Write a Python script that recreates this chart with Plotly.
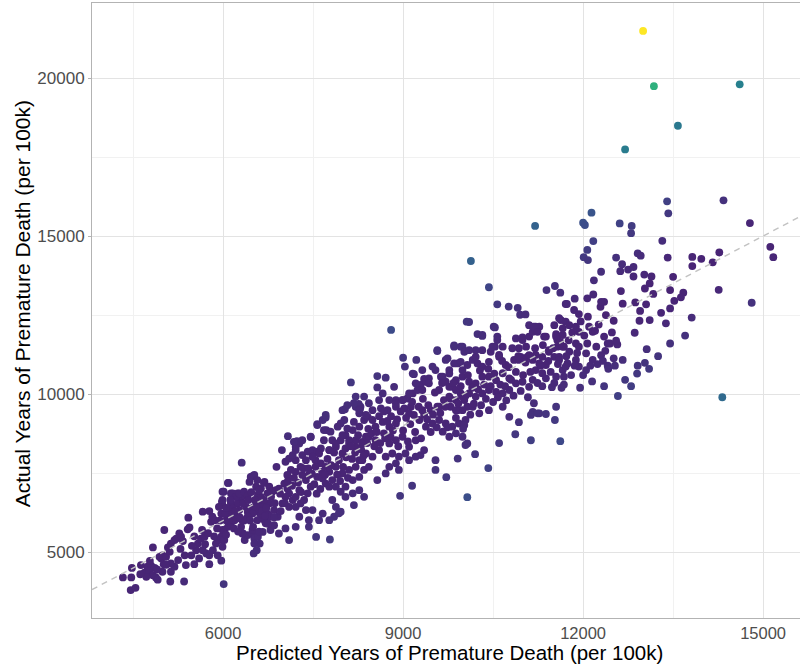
import plotly.graph_objects as go

# ---- data: (predicted, actual) pairs -----------------------------------
low_left = [(4330,4200),(4470,4200),(4460,3800),(4540,3870),(4480,4500),(4690,4350),(4740,4540),(4800,4570),
    (4860,4500),(4770,4380),(4830,4270),(4880,4200),(4910,4130),(4990,4380),(5010,4620),(4970,4800),(4940,4850),
    (4990,4900),(5050,4850),(5120,4070),(5130,4380),(5190,4540),(5130,4640),(5110,5010),(5130,5270),(5190,5380),
    (5220,5430),(5270,5590),(5300,5490),(5410,5720),(5440,5780),(5420,6090),(5360,4900),(5380,4590),(5520,4620),
    (5470,4900),(5550,5060),(5580,5270),(5630,5430),(5690,5490),(5720,4960),(5660,5060),(5770,4620),(5770,4900),
    (5830,5060),(5880,5270),(5940,5380),(5970,5490),(5910,4900),(5970,4730),(5990,5170),(6020,5380),(6020,5700),
    (6080,5800),(6130,5850),(6190,6010),(6240,6070),(6300,5800),(6330,5590),(6360,5380),(6410,5540),(6490,5590),
    (6520,5430),(6580,5490),(6610,5270),(6520,5270),(6510,4960),(6560,5060),(5800,5960),(5860,6010),(5770,6300),
    (5660,6280),(5970,6220),(5990,6490),(5980,6590),(6010,6910),(6080,7190),(6130,6860),(6190,6750),(6240,6860),
    (6300,6700),(6360,6800),(6380,6430),(6410,6280),(6470,6380),(6520,6430),(6580,6280),(6630,6170),(6690,6010),
    (6740,6220),(6490,7400),(6690,7220),(6440,7220),(6550,7070),(6580,6800),(6610,6590),(6660,6490),(6240,6540),
    (6270,6330),(6130,6540),(6160,6380),(6080,6220),(6050,6010),(6310,7830),(6010,3990),(4830,5150),(5020,5700),
    (5350,4070),(4720,4220),(4630,4590)]

cloud_6k_8k = [(5990,6910),(5990,6650),(6090,7190),(6160,6860),(6210,6750),(6270,6860),(6350,6910),(6410,6800),
    (6460,7380),(6520,7440),(6570,7280),(6630,7010),(6680,7190),(6770,7070),(6820,6910),(6740,6860),(6630,6750),
    (6660,6430),(6770,6540),(6850,6330),(6910,6120),(6540,6430),(6490,6220),(6410,6120),(6320,6010),(6210,6120),
    (6100,6010),(6040,6220),(5930,6430),(5820,6120),(6570,6010),(6710,5910),(6790,6120),(6880,6960),(6930,7010),
    (7020,7170),(7070,7010),(7100,6860),(7160,6650),(7210,6750),(7270,6960),(7040,6750),(6990,6540),(7100,6430),
    (7210,6430),(7290,6540),(7350,6650),(7410,6860),(7460,7070),(7380,7280),(7320,7440),(7210,7540),(7130,7600),
    (7070,7440),(7040,7860),(7100,7960),(7210,7910),(7290,7700),(7160,8070),(7210,8230),(7270,8440),(7320,8070),
    (7410,8180),(7490,8230),(7570,8180),(7630,8280),(7680,8540),(7820,8540),(7770,8230),(7540,7910),(7630,7810),
    (7710,7700),(7770,7540),(7880,7700),(7930,7910),(7990,8120),(8040,8280),(8100,8440),(8210,8540),(8320,8490),
    (8380,8650),(7880,8330),(7960,8540),(8040,8700),(8160,8860),(8270,8970),(8350,9180),(8410,9280),(8070,8910),
    (8020,9180),(7960,9070),(8180,9120),(8270,9390),(8210,9600),(8290,9600),(8030,9520),(8260,9690),(8280,9520),
    (7570,9050),(7710,9260),(7720,8860),(7460,8640),(7080,8670),(7230,8510),(6980,8230),(6890,7700),(8130,10370),
    (7540,7700),(7570,7380),(7430,7440),(7660,7330),(7710,7170),(7770,7070),(7820,7280),(7880,7070),(7960,6910),
    (8040,7070),(8160,7280),(8270,7380),(8350,7600),(8430,7700),(8100,7600),(8210,7700),(8320,7910),(7990,7490),
    (8040,6750),(8160,6860),(8270,6960),(8350,6750),(7820,6650),(7880,6430),(7960,6280),(7850,6120),(7770,6010),
    (7660,6220),(7600,6010),(7430,5800),(7430,6010),(7270,6120),(7380,6330),(7490,6330),(7210,5800),(7040,5750),
    (6930,5590),(6790,5700),(6660,5640),(6490,5700),(6320,5590),(6180,5750),(5990,5700)]

cloud_8k_10k = [(8800,12030),(8570,10570),(8710,10520),(9000,11150),(9220,11080),(9030,10870),(9180,10630),
    (9350,10480),(9430,10500),(9290,10290),(9380,10390),(9570,11360),(9850,11540),(9990,11500),(9710,11080),
    (9770,10760),(9910,10970),(9990,10760),(9540,10760),(9630,10550),(9710,10390),(9820,10230),(10060,12290),
    (8570,10210),(8660,10020),(8600,9810),(8770,9810),(8880,9810),(8990,9810),(9070,9860),(9160,10020),(9240,10130),
    (8630,9550),(8740,9490),(8880,9600),(9020,9550),(9130,9600),(9180,9340),(9270,9180),(9350,9340),(9460,9490),
    (9570,9600),(9680,9810),(9770,9920),(9880,9810),(9960,10020),(10020,9810),(10070,9600),(9990,9490),(9910,9490),
    (9790,9600),(9380,8970),(9490,9070),(9600,9180),(9710,9070),(9820,8970),(9930,9070),(10040,9180),(9660,8810),
    (9770,8650),(9880,8760),(9990,8650),(10070,8440),(10020,9020),(9540,7910),(9540,7600),(9910,7960),(9290,8070),
    (9100,8330),(9210,8540),(8770,8440),(8880,8540),(8990,8650),(8790,8650),(8680,8760),(8770,8970),(8880,9070),
    (8660,9120),(8540,8970),(8490,9180),(8380,9340),(8270,9490),(8180,9710),(8070,9650),(7990,9490),(8210,9920),
    (8350,9920),(8430,9710),(8490,9490),(7660,9180),(7710,9340),(7570,9020),(7460,8650),(7320,8540),(7210,8330),
    (7180,8490),(7680,8860),(7790,8810),(7910,8970),(7990,8700),(7880,8440),(7770,8230),(7600,8120),(7490,8020),
    (7380,7910),(8100,8540),(8210,8330),(8320,8440),(8430,8650),(8540,8540),(8380,8120),(8270,7910),(8490,8020),
    (8600,8230),(8710,8020),(8820,8120),(8930,8020),(9040,8120),(8770,7700),(8880,7810),(8710,7490),(9100,7910),
    (9210,8020),(9350,8230),(8930,7600),(10040,8390)]

cloud_10k_12k = [(10130,14210),(10430,13380),(10570,12840),(10760,12770),(10910,12730),(10950,12510),(11040,12520),
    (11390,13290),(11530,13420),(11620,13210),(11710,12850),(10100,12280),(10530,12110),(10240,11900),(10320,11840),
    (10570,11710),(10530,11500),(10460,11340),(10600,11240),(10880,11760),(10990,11790),(11050,11500),(10930,11450),
    (10850,11080),(10960,11180),(11070,11180),(11100,11820),(11210,12130),(11160,11970),(11270,12130),(11350,11820),
    (11550,11900),(11660,11870),(11570,11710),(11520,12180),(11630,12340),(11710,12290),(11570,11500),(11680,11500),
    (11430,11390),(11320,11180),(11210,11240),(11270,10970),(11380,10920),(11520,11180),(11600,11180),(11740,10970),
    (11660,10760),(11550,10550),(11680,10550),(11320,10660),(11210,10760),(11160,11080),(11320,10250),(11480,10220),
    (11640,10200),(11180,9710),(11270,9390),(11530,9180),(11160,9440),(11130,9340),(9570,11390),(9850,11500),
    (9960,11500),(10020,11340),(9740,11130),(9850,10970),(9960,11020),(10070,10920),(10160,11080),(10240,10970),
    (10320,10870),(10430,11020),(10320,11390),(10210,11390),(10100,11390),(10210,11180),(9160,10650),(9320,10760),
    (9490,10870),(9660,10550),(9770,10650),(9880,10440),(9990,10550),(10100,10390),(10210,10340),(10320,10550),
    (10430,10550),(10550,10440),(10660,10660),(10770,10500),(10880,10340),(10990,10390),(11100,10230),(10770,10130),
    (10660,10020),(10550,10070),(10430,10130),(10320,10020),(10210,9920),(10100,10020),(9990,9920),(9880,10130),
    (9770,10230),(9600,10130),(9430,10340),(9320,10130),(9210,10340),(9100,10020),(8990,9810),(8880,9710),
    (10160,9600),(10270,9390),(10430,9490),(10660,9600),(10770,9280),(11240,9390),(11550,9600),(9880,9490),
    (9600,9600),(9320,9490),(9100,9390),(8850,10230)]

cloud_12k_13k = [(12140,15740),(12000,15420),(12030,15350),(11200,15320),(12610,15400),(12810,15320),(12800,15090),
    (12170,14840),(12070,14560),(12010,14330),(12080,14240),(12910,14450),(12960,14380),(12550,14320),(12650,14110),
    (12620,13890),(12750,13940),(12840,14020),(12840,13720),(12300,13870),(12180,13600),(13020,13780),(13140,13720),
    (13110,13500),(13030,13340),(13170,13170),(12630,13260),(11860,13020),(11730,12850),(11850,12660),(11930,12530),
    (12070,13030),(12170,13150),(12290,12760),(12350,12920),(12660,12860),(12870,12900),(13050,12840),(12950,12630),
    (13110,12340),(12510,12320),(12480,11950),(12450,11600),(12570,11570),(12860,11940),(13060,11420),(13030,10990),
    (12910,10900),(12660,11080),(12510,11130),(12370,11370),(12550,11690),(12300,11230),(12240,10950),(12410,10900),
    (12530,10900),(10510,12130),(10320,11870),(10570,11820),(10490,11500),(10660,11500),(10820,11450),(10990,11710),
    (11100,12180),(11180,12130),(11240,11970),(11380,11820),(11550,11820),(11660,12080),(11600,12400),(11770,12180),
    (11880,12130),(11930,11970),(12100,12130),(12160,11970),(11880,11600),(11930,11500),(11770,11340),(11660,11500),
    (11430,11340),(11100,11230),(10930,11080),(10710,10920),(10600,11180),(11600,11080),(11710,10870),(11880,11080),
    (12050,11290),(12070,11600),(11930,10870),(12050,10760),(12350,11820),(12410,11600),(12160,11080)]

cloud_right = [(13400,16100),(13420,15720),(14340,16130),(14780,15410),(13320,14850),(15120,14660),(15170,14330),
    (13410,14320),(13820,14340),(13970,14280),(13820,14050),(14160,14170),(14270,14480),(13500,13710),(13450,13290),
    (13670,13210),(13630,13060),(13520,12950),(13450,12710),(13300,12570),(13380,12240),(12940,12320),(13810,12420),
    (14260,13300),(14810,12890),(12300,12920)]

fringe_low = [(10070,6740),(10420,7660),(9720,7370),(10870,8730),(11130,8540),(11620,8510),(10930,9110),(11380,9370),
    (8950,6780),(8570,7280),(8180,6490),(7930,6230),(7550,5480),(7780,5400),(7100,5380),(6850,5850),(10200,8100),
    (10600,8450),(9150,7100),(12580,9940),(12150,10400),(12350,10250),(12700,10450),(12900,10650),(12800,10250),
    (13100,10800),(13250,11200),(13450,11600),(13700,11850),(11950,10200)]

core_fill = [(4620,4300),(4780,4720),(4900,4450),(5050,4600),(5080,5150),(5250,4750),(5290,5100),(5330,5350),
    (5480,5200),(5520,5500),(5600,4800),(5650,5700),(5700,5250),(5750,5600),(5850,5500),(5900,5750),(5950,6000),
    (6050,5550),(6150,6200),(6250,5650),(6350,6000),(6450,6000),(6500,5800),(6600,5650),(6650,6300),(6700,6150),
    (6750,5900),(6850,6100),(6050,6400),(6120,6650),(6200,6300),(6280,6100),(6330,6550),(6420,6650),(6470,6900),
    (6530,6650),(6600,6950),(6680,6650),(6720,6400),(6800,6750),(6860,6550),(6950,6850),(6960,6300),(7030,6550),
    (7080,7250),(7150,7100),(7180,7350),(7250,7200),(7300,6900),(7340,7650),(7420,7650),(7480,7480),(7520,7150),
    (7560,6850),(7620,7000),(7650,7550),(7700,7450),(7740,7950),(7800,7750),(7850,8150),(7900,7450),(7950,7250),
    (8000,7700),(8050,8000),(8080,7350),(8130,8350),(8150,7950),(8200,8150),(8250,8700),(8300,8250),(8340,8050),
    (8400,8450),(8420,8900),(8470,8750),(8520,8350),(8560,8800),(8600,9300),(8620,8450),(8680,9450),(8700,8600),
    (8740,9150),(8800,9300),(8830,8850),(8900,9200),(8920,8350),(8960,9450),(9000,8850),(9050,9250),(9080,8500),
    (9120,9050),(9150,9750),(9200,8800),(9260,9600),(9300,8600),(9330,9850),(9400,9200),(9420,9650),(9460,8800),
    (9500,9350),(9530,10050),(9560,8950),(9620,9400),(9650,10350),(9700,9600),(9740,8950),(9790,9850),(9840,10350),
    (9880,9250),(9920,9700),(9960,10250),(10000,8900),(10040,9950),(10080,10600),(10120,9350),(10150,10200),
    (10180,9700),(10250,10150),(10280,10750),(10300,9650),(10350,10300),(10380,9850),(10420,10800),(10460,10250),
    (10500,9750),(10520,10650),(10580,9900),(10620,10300),(10650,11050),(10700,10250),(10720,9800),(10760,10850),
    (10800,10450),(10840,9950),(10880,10700),(10920,11200),(10960,10100),(11000,10600),(11040,11000),(11080,9900),
    (11120,10700),(11160,10450),(11200,11450),(11240,10350),(11290,10900),(11330,11550),(11380,10500),(11420,11050),
    (11460,10700),(11500,11450),(11520,10350),(11580,10950),(11620,11650),(11680,10300),(11720,11200),(11760,11700),
    (11800,10600),(11820,11950),(11860,10900),(11900,11300),(11960,12300),(12000,10600),(12020,11850),(12080,12450),
    (12120,10900),(12200,12000),(12220,11500),(12260,12200),(12330,11050),(12380,12500),(12420,10800)]

outliers = [(14320,9900),(12700,17740),(13580,18490),(14610,19800),(13180,19740),(13000,21490)]

x_ticks = [6000, 9000, 12000, 15000]
x_minor = [4500, 7500, 10500, 13500]
y_ticks = [5000, 10000, 15000, 20000]
y_minor = [7500, 12500, 17500]
x_range = [3815, 15615]
y_range = [2916, 22373]

groups = [low_left, cloud_6k_8k, cloud_8k_10k, cloud_10k_12k, cloud_12k_13k, cloud_right, fringe_low,
          core_fill, outliers]
predicted = [p for g in groups for p, _ in g]
actual = [a for g in groups for _, a in g]
sq_err = [(a - p) ** 2 for p, a in zip(predicted, actual)]

FONT = "Liberation Sans, Arial, Helvetica, sans-serif"

fig = go.Figure()
fig.add_trace(go.Scatter(
    x=predicted, y=actual, mode="markers",
    marker=dict(size=7.8, color=sq_err, colorscale="Viridis",
                cmin=-0.111 * max(sq_err), cmax=max(sq_err), showscale=False,
                line=dict(width=0)),
    hoverinfo="x+y", showlegend=False))

# identity line (y = x), dashed, drawn above the points
fig.add_shape(type="line", xref="x", yref="y",
              x0=x_range[0], y0=x_range[0], x1=x_range[1], y1=x_range[1],
              line=dict(color="#c2c2c2", width=1.4, dash="6px,5px"), layer="above")

axis_common = dict(
    showgrid=True, gridcolor="#e3e3e3", gridwidth=1,
    zeroline=False, showline=True, linecolor="#b3b3b3", linewidth=1,
    ticks="outside", tickcolor="#b3b3b3", tickwidth=1,
    tickformat="d",
)

fig.update_layout(
    width=800, height=665,
    margin=dict(l=92, r=0, t=3, b=47),
    paper_bgcolor="white", plot_bgcolor="white",
    font=dict(family=FONT),
    xaxis=dict(range=x_range, tickvals=x_ticks, mirror=True, ticklen=0,
               tickfont=dict(family=FONT, size=16.5, color="#4d4d4d"),
               minor=dict(tickvals=x_minor, showgrid=True, gridcolor="#f1f1f1", ticks=""),
               **axis_common),
    yaxis=dict(range=y_range, tickvals=y_ticks, mirror=False, ticklen=3,
               tickfont=dict(family=FONT, size=17, color="#4d4d4d"),
               minor=dict(tickvals=y_minor, showgrid=True, gridcolor="#f1f1f1", ticks=""),
               **axis_common),
    annotations=[
        dict(text="Predicted Years of Premature Death (per 100k)", xref="paper", yref="paper",
             x=(449 - 92) / 708, y=(618 - 665) / 615, xanchor="center", yanchor="bottom",
             borderpad=0, showarrow=False, font=dict(family=FONT, size=20.5, color="#000000")),
        dict(text="Actual Years of Premature Death (per 100k)", xref="paper", yref="paper",
             x=(22 - 92) / 708, y=0.51, xanchor="center", yanchor="middle", textangle=-90,
             showarrow=False, font=dict(family=FONT, size=21, color="#000000")),
    ],
)

fig.write_html("out.html")
